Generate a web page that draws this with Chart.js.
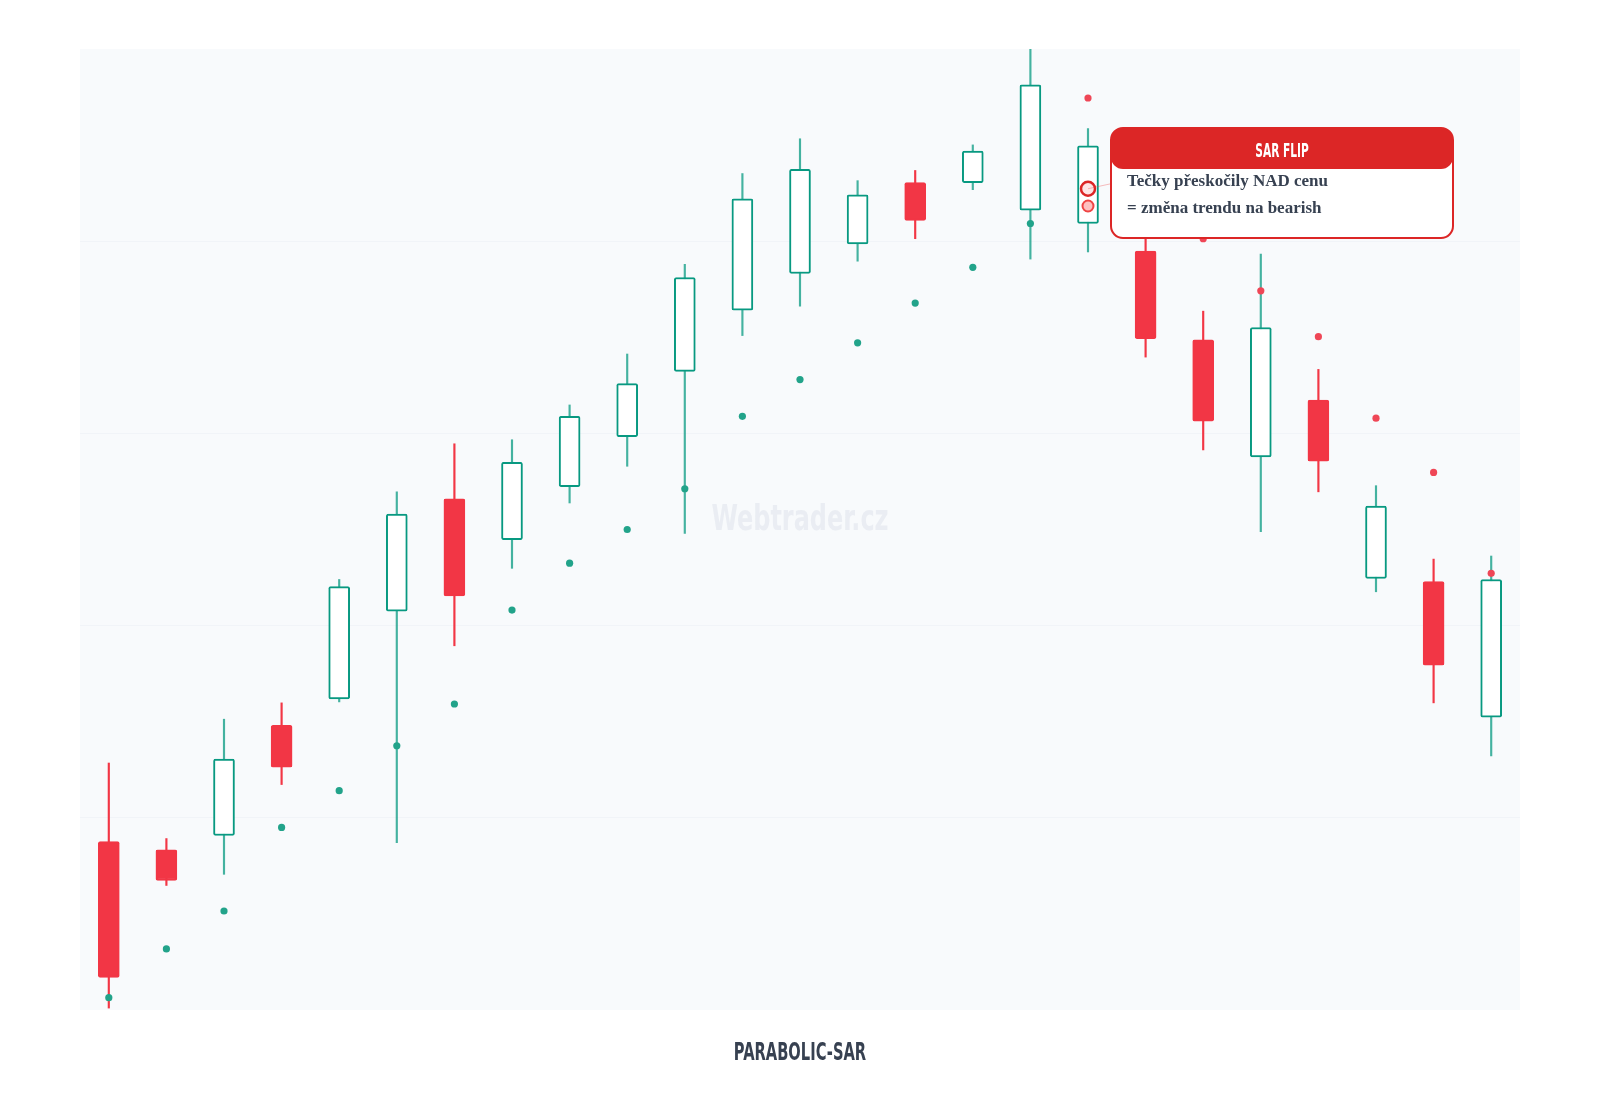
<!DOCTYPE html>
<html>
<head>
<meta charset="utf-8">
<script src="https://cdn.jsdelivr.net/npm/chart.js@4.4.1/dist/chart.umd.min.js"></script>
<style>
  html, body { margin: 0; padding: 0; background: #ffffff; }
  #wrap { width: 1600px; height: 1100px; }
</style>
</head>
<body>
<div id="wrap"><canvas id="sarChart" width="1600" height="1100"></canvas></div>
<script>
// Candle data, 25 sessions
const candleLabels = ['D1','D2','D3','D4','D5','D6','D7','D8','D9','D10','D11','D12','D13',
                      'D14','D15','D16','D17','D18','D19','D20','D21','D22','D23','D24','D25'];
const openPrices  = [108.76, 108.33, 109.08, 114.81, 116.19, 120.75, 126.59, 124.47, 127.23, 129.83, 133.23, 136.41, 138.32,
                     139.86, 143.05, 143.05, 141.61, 140.92, 139.49, 134.87, 128.77, 131.74, 122.45, 122.29, 115.23];
const highPrices  = [112.85, 108.92, 115.13, 115.98, 122.40, 126.96, 129.46, 129.67, 131.48, 134.13, 138.80, 143.52, 145.33,
                     143.15, 143.68, 145.01, 150.30, 145.86, 140.45, 136.36, 139.33, 133.33, 127.28, 123.46, 123.62];
const lowPrices   = [100.10, 106.48, 107.06, 111.73, 116.03, 108.70, 118.95, 122.98, 126.38, 128.29, 124.79, 135.09, 136.62,
                     138.96, 140.13, 142.68, 139.07, 139.44, 133.97, 129.14, 124.89, 126.96, 121.76, 115.98, 113.22];
const closePrices = [101.70, 106.74, 113.06, 112.63, 122.03, 125.80, 121.55, 128.50, 130.89, 132.59, 138.11, 142.20, 143.74,
                     142.41, 141.08, 144.69, 148.14, 144.96, 134.93, 130.63, 135.51, 128.56, 126.22, 117.94, 122.40];

// Parabolic SAR dots
const sarValues   = [100.64, 103.18, 105.15, 109.50, 111.41, 113.75, 115.92, 120.81, 123.25, 125.00, 127.12, 130.89, 132.80,
                     134.71, 136.78, 138.64, 140.92, 147.45, 144.50, 140.13, 137.42, 135.03, 130.79, 127.97, 122.72];

// SAR flip highlight (on candle D18)
const flipIndex = 17;
const flipMarks = [142.73, 141.83];

// y axis
const priceMin = 100;
const priceMax = 150;
const priceStep = 10;

const chartTitle = 'PARABOLIC-SAR';
const watermark = 'Webtrader.cz';

const colors = {
    up: '#089981',
    upWick: 'rgba(8,153,129,0.75)',
    down: '#f23645',
    sarUp: '#22a38a',
    sarDown: '#ef4656',
    flip: '#dc2626',
    text: '#374151',
    plotBg: '#f8fafc'
};

const condensedFont = '"Liberation Sans Narrow", "DejaVu Sans Condensed", sans-serif';

const isUp = openPrices.map((o, i) => closePrices[i] >= o);

const onlyAt = (idx, v) => candleLabels.map((_, i) => (i === idx ? v : null));

// no narrow display font installed, so squeeze the condensed one horizontally
function drawNarrowText(ctx, text, x, y, squeeze) {
    ctx.save();
    ctx.translate(x, y);
    ctx.scale(squeeze, 1);
    ctx.textAlign = 'center';
    ctx.textBaseline = 'middle';
    ctx.fillText(text, 0, 0);
    ctx.restore();
}

const backgroundPlugin = {
    id: 'plotBackground',
    beforeDraw(chart) {
        const { ctx, chartArea: a } = chart;
        ctx.save();
        ctx.fillStyle = '#ffffff';
        ctx.fillRect(0, 0, chart.width, chart.height);
        ctx.fillStyle = colors.plotBg;
        ctx.fillRect(a.left, a.top, a.right - a.left, a.bottom - a.top);
        ctx.restore();
    },
    beforeDatasetsDraw(chart) {
        const { ctx, chartArea: a } = chart;
        ctx.save();
        ctx.font = 'bold 36px ' + condensedFont;
        ctx.fillStyle = 'rgba(203,210,222,0.3)';
        drawNarrowText(ctx, watermark, (a.left + a.right) / 2, (a.top + a.bottom) / 2 - 9, 0.74);
        ctx.restore();
    },
    afterDraw(chart) {
        const { ctx, chartArea: a } = chart;
        ctx.save();
        ctx.font = 'bold 24px ' + condensedFont;
        ctx.fillStyle = colors.text;
        drawNarrowText(ctx, chartTitle, (a.left + a.right) / 2, a.bottom + 44, 0.68);
        ctx.restore();
    }
};

function roundRect(ctx, x, y, w, h, r) {
    ctx.beginPath();
    ctx.moveTo(x + r, y);
    ctx.arcTo(x + w, y, x + w, y + h, r);
    ctx.arcTo(x + w, y + h, x, y + h, r);
    ctx.arcTo(x, y + h, x, y, r);
    ctx.arcTo(x, y, x + w, y, r);
    ctx.closePath();
}

const flipNotePlugin = {
    id: 'flipNote',
    afterDraw(chart) {
        const { ctx } = chart;
        const px = chart.scales.x.getPixelForValue(flipIndex);
        const py = chart.scales.y.getPixelForValue(flipMarks[0]);
        const bx = px + 23, by = 128, bw = 342, bh = 110;

        ctx.save();
        // connector
        ctx.strokeStyle = 'rgba(239,68,68,0.35)';
        ctx.lineWidth = 1;
        ctx.beginPath();
        ctx.moveTo(px, py);
        ctx.lineTo(bx, py - 5);
        ctx.stroke();

        // box
        roundRect(ctx, bx, by, bw, bh, 12);
        ctx.fillStyle = '#ffffff';
        ctx.fill();
        roundRect(ctx, bx, by, bw, 41, 12);
        ctx.fillStyle = colors.flip;
        ctx.fill();
        roundRect(ctx, bx, by, bw, bh, 12);
        ctx.strokeStyle = colors.flip;
        ctx.lineWidth = 2;
        ctx.stroke();

        ctx.fillStyle = '#ffffff';
        ctx.font = 'bold 19px ' + condensedFont;
        drawNarrowText(ctx, 'SAR FLIP', bx + bw / 2, by + 24, 0.62);

        ctx.fillStyle = colors.text;
        ctx.font = 'bold 17px "Liberation Serif", "DejaVu Serif", serif';
        ctx.textAlign = 'left';
        ctx.textBaseline = 'alphabetic';
        ctx.fillText('Tečky přeskočily NAD cenu', bx + 16, by + 58);
        ctx.fillText('= změna trendu na bearish', bx + 16, by + 85);
        ctx.restore();
    }
};

const ctx = document.getElementById('sarChart').getContext('2d');

new Chart(ctx, {
    data: {
        labels: candleLabels,
        datasets: [
            {
                type: 'line',
                label: 'Flip A',
                data: onlyAt(flipIndex, flipMarks[0]),
                showLine: false,
                pointRadius: 7,
                pointBorderWidth: 2.5,
                pointBorderColor: colors.flip,
                pointBackgroundColor: 'rgba(254,226,226,0.9)',
                order: 0
            },
            {
                type: 'line',
                label: 'Flip B',
                data: onlyAt(flipIndex, flipMarks[1]),
                showLine: false,
                pointRadius: 5.5,
                pointBorderWidth: 2,
                pointBorderColor: '#ef4444',
                pointBackgroundColor: 'rgba(252,165,165,0.7)',
                order: 0
            },
            {
                type: 'line',
                label: 'Parabolic SAR',
                data: sarValues,
                showLine: false,
                pointRadius: 3.6,
                pointBorderWidth: 0,
                pointBackgroundColor: sarValues.map((s, i) => s < closePrices[i] ? colors.sarUp : colors.sarDown),
                order: 1
            },
            {
                type: 'bar',
                label: 'Body',
                data: openPrices.map((o, i) => [o, closePrices[i]]),
                grouped: false,
                barThickness: 21,
                backgroundColor: isUp.map(u => u ? '#ffffff' : colors.down),
                borderColor: isUp.map(u => u ? colors.up : colors.down),
                borderWidth: 2,
                borderRadius: 2,
                borderSkipped: false,
                order: 2
            },
            {
                type: 'bar',
                label: 'Wick',
                data: lowPrices.map((l, i) => [l, highPrices[i]]),
                grouped: false,
                barThickness: 1.5,
                backgroundColor: isUp.map(u => u ? colors.upWick : colors.down),
                borderWidth: 0,
                order: 3
            }
        ]
    },
    options: {
        responsive: false,
        animation: false,
        layout: { padding: { left: 80, right: 80, top: 49, bottom: 90 } },
        plugins: {
            legend: { display: false },
            tooltip: { enabled: false },
            title: { display: false }
        },
        scales: {
            x: {
                type: 'category',
                offset: true,
                display: false
            },
            y: {
                min: priceMin,
                max: priceMax,
                ticks: { display: false, stepSize: priceStep },
                grid: {
                    color: c => (c.tick && (c.tick.value === priceMin || c.tick.value === priceMax))
                        ? 'rgba(0,0,0,0)' : 'rgba(226,232,240,0.3)',
                    drawTicks: false
                },
                border: { display: false },
                afterFit(scale) { scale.width = 0; }
            }
        }
    },
    plugins: [backgroundPlugin, flipNotePlugin]
});
</script>
</body>
</html>
